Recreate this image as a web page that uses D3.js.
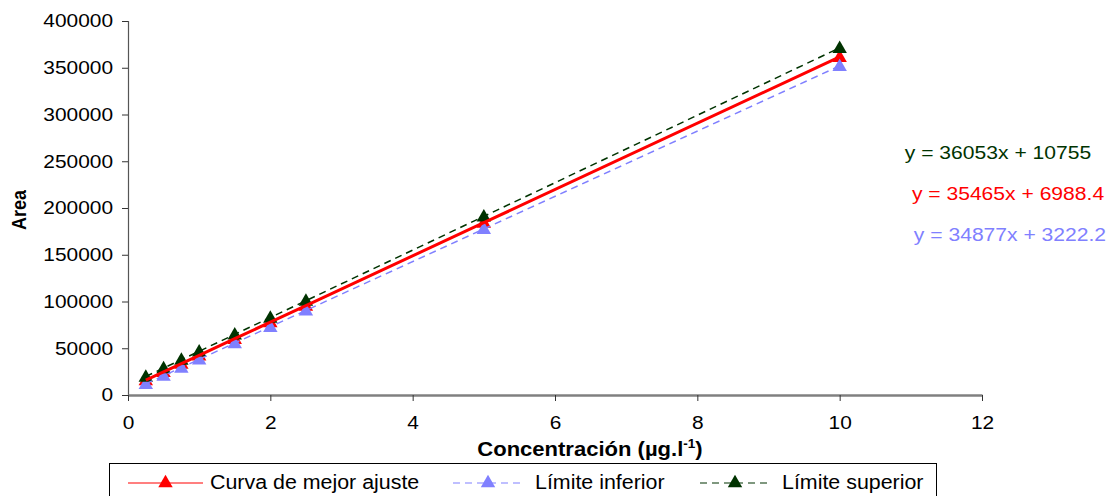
<!DOCTYPE html>
<html>
<head>
<meta charset="utf-8">
<script src="https://cdn.jsdelivr.net/npm/d3@7"></script>
<style>
  html, body { margin: 0; padding: 0; background: #fff; }
  svg { display: block; font-family: "Liberation Sans", Arial, sans-serif; }
</style>
</head>
<body>
<svg id="chart" width="1112" height="496"></svg>
<script>
// Calibration standards (µg/l) and measured peak areas
const concentrations = [0.25, 0.5, 0.75, 1, 1.5, 2, 2.5, 5, 10];
const areaFit   = [15855, 24721, 33587, 42453, 60186, 77918, 95651, 184314, 361638];
const areaLower = [11941, 20661, 29380, 38099, 55538, 72976, 90415, 177607, 351992];
const areaUpper = [19768, 28782, 37795, 46808, 64835, 82861, 100888, 191020, 371285];

const xTicks = [0, 2, 4, 6, 8, 10, 12];
const yTicks = [0, 50000, 100000, 150000, 200000, 250000, 300000, 350000, 400000];

const seriesNames = ["Curva de mejor ajuste", "Límite inferior", "Límite superior"];
const equations = ["y = 35465x + 6988.4", "y = 34877x + 3222.2", "y = 36053x + 10755"];

const svg = d3.select("#chart");
const plotLeft = 128, plotRight = 982, plotTop = 21, plotBottom = 395;

// Widen a text element horizontally around its own anchor point
function widen(sel, sx) {
  sel.each(function () {
    const t = d3.select(this);
    const ax = +t.attr("x") || 0, ay = +t.attr("y") || 0;
    const prev = t.attr("transform") || "";
    t.attr("transform", `${prev} translate(${ax},${ay}) scale(${sx},1) translate(${-ax},${-ay})`);
  });
}

const x = d3.scaleLinear().domain([0, 12]).range([plotLeft, plotRight]);
const y = d3.scaleLinear().domain([0, 400000]).range([plotBottom, plotTop]);

const series = [
  { name: seriesNames[0], values: areaFit,   color: "#ff0000", dash: null,  width: 3,   eq: equations[0] },
  { name: seriesNames[1], values: areaLower, color: "#8080ff", dash: "7,5", width: 1.5, eq: equations[1] },
  { name: seriesNames[2], values: areaUpper, color: "#003300", dash: "7,5", width: 1.5, eq: equations[2] }
];

// Axes
const yAxis = svg.append("g")
  .attr("transform", `translate(${plotLeft},0)`)
  .call(d3.axisLeft(y).tickValues(yTicks).tickSize(6).tickPadding(9).tickFormat(d3.format("d")));
yAxis.select(".domain").attr("stroke", "#555").attr("stroke-width", 1.2);
yAxis.selectAll(".tick line").attr("stroke", "#333");
yAxis.selectAll("text").attr("font-size", 18.5).attr("fill", "#000")
  .attr("font-family", "'Liberation Sans', Arial, sans-serif").call(widen, 1.13);

const xAxis = svg.append("g")
  .attr("transform", `translate(0,${plotBottom})`)
  .call(d3.axisBottom(x).tickValues(xTicks).tickSize(6).tickSizeOuter(0).tickPadding(15));
xAxis.select(".domain").attr("stroke", "#808080").attr("stroke-width", 2.5);
xAxis.selectAll(".tick line").attr("stroke", "#333");
xAxis.selectAll("text").attr("font-size", 18.5).attr("fill", "#000")
  .attr("font-family", "'Liberation Sans', Arial, sans-serif").call(widen, 1.13);

// Axis titles
svg.append("text")
  .attr("transform", "translate(26,210) rotate(-90) scale(1,1.1)")
  .attr("text-anchor", "middle")
  .attr("font-size", 18).attr("font-weight", "bold")
  .text("Area");

const xt = svg.append("text")
  .attr("x", 590).attr("y", 456)
  .attr("text-anchor", "middle")
  .attr("font-size", 19.5).attr("font-weight", "bold");
xt.append("tspan").text("Concentración (µg.l");
xt.append("tspan").attr("dy", -8).attr("font-size", 12).text("-1");
xt.append("tspan").attr("dy", 8).text(")");
widen(xt, 1.13);

// Lines and markers
const line = d3.line().x((d, i) => x(concentrations[i])).y(d => y(d));
const tri = d3.symbol().type(d3.symbolTriangle).size(90);

[0, 1, 2].forEach(k => {
  const s = series[k];
  svg.append("g").selectAll("path")
    .data(s.values)
    .join("path")
    .attr("transform", (d, i) => `translate(${x(concentrations[i])},${y(d) + 1})`)
    .attr("d", tri)
    .attr("fill", s.color);
});
[1, 2, 0].forEach(k => {
  const s = series[k];
  svg.append("path")
    .datum(s.values)
    .attr("d", line)
    .attr("fill", "none")
    .attr("stroke", s.color)
    .attr("stroke-width", s.width)
    .attr("stroke-dasharray", s.dash);
});

// Regression equations
const eqPos = [
  { k: 2, x: 998, y: 159 },
  { k: 0, x: 1008, y: 200 },
  { k: 1, x: 1010, y: 241 }
];
eqPos.forEach(p => {
  svg.append("text")
    .attr("x", p.x).attr("y", p.y)
    .attr("text-anchor", "middle")
    .attr("font-size", 18.5)
    .attr("fill", series[p.k].color)
    .text(series[p.k].eq)
    .call(widen, 1.14);
});

// Legend
const legend = svg.append("g");
legend.append("rect")
  .attr("x", 109.5).attr("y", 463.5).attr("width", 827).attr("height", 40)
  .attr("fill", "#fff").attr("stroke", "#000").attr("stroke-width", 1);
const legendItems = [
  { k: 0, x0: 128, x1: 203, tx: 210 },
  { k: 1, x0: 453, x1: 523, tx: 535 },
  { k: 2, x0: 700, x1: 770, tx: 782 }
];
legendItems.forEach(it => {
  const s = series[it.k];
  const ly = 483;
  legend.append("line")
    .attr("x1", it.x0).attr("x2", it.x1).attr("y1", ly).attr("y2", ly)
    .attr("stroke", s.color).attr("stroke-width", 1.2)
    .attr("stroke-dasharray", s.dash);
  legend.append("path")
    .attr("transform", `translate(${(it.x0 + it.x1) / 2},${ly})`)
    .attr("d", tri).attr("fill", s.color);
  legend.append("text")
    .attr("x", it.tx).attr("y", 489.5)
    .attr("font-size", 20)
    .text(s.name)
    .call(widen, 1.07);
});
</script>
</body>
</html>
